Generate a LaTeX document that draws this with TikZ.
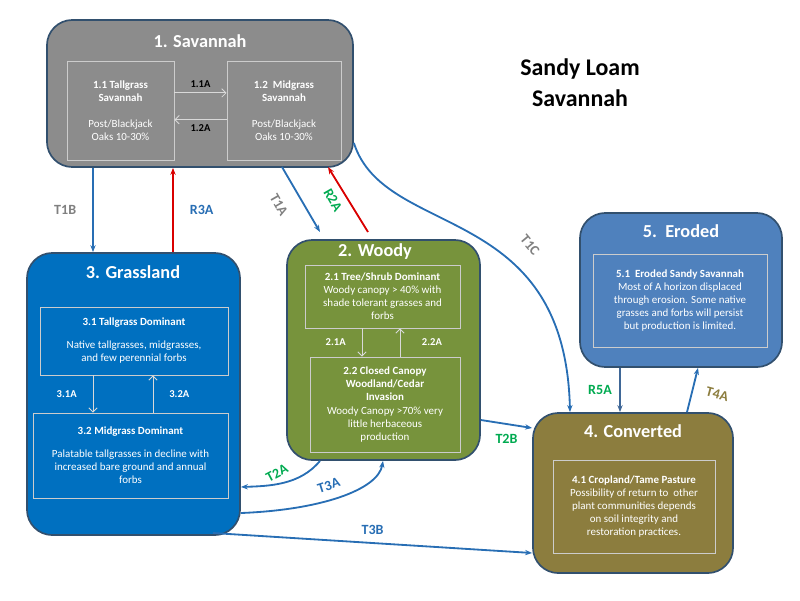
\documentclass[tikz,border=0pt]{standalone}
\usepackage{fontspec}
\setmainfont{Carlito}
\usetikzlibrary{arrows.meta}
\definecolor{savgray}{RGB}{140,140,140}
\definecolor{grassblue}{RGB}{0,112,192}
\definecolor{woodygreen}{RGB}{119,147,60}
\definecolor{erodedblue}{RGB}{79,129,189}
\definecolor{convolive}{RGB}{140,125,62}
\definecolor{edgeblue}{RGB}{50,80,110}
\definecolor{linkblue}{RGB}{40,110,180}
\definecolor{labgreen}{RGB}{0,170,80}

\begin{document}
\begin{tikzpicture}[
	x=0.025cm, y=-0.025cm,
	state/.style={draw=edgeblue, line width=1.2pt, rounded corners=18pt},
	phase/.style={draw=white!80!black, line width=0.6pt, align=center, text=white, font=\fontsize{7.8}{9.3}\selectfont},
	statetitle/.style={text=white, font=\fontsize{13}{15}\selectfont\bfseries},
	link/.style={-{Stealth[length=5pt]}, line width=1.3pt, draw=linkblue},
	back/.style={-{Stealth[length=5pt]}, line width=1.3pt, draw=red!85!black},
	inner/.style={-{Straight Barb[length=3pt]}, white!85!black, line width=0.6pt},
	lab/.style={font=\fontsize{10}{12}\selectfont\bfseries},
	innerlab/.style={font=\fontsize{7.5}{9}\selectfont\bfseries}
	]
	\useasboundingbox (0,0) rectangle (800,600);
	
	% States
	\node[state, fill=savgray, minimum width=7.65cm, minimum height=3.675cm] (savannah) at (200,93.5) {};
	\node[state, fill=grassblue, minimum width=5.325cm, minimum height=7.05cm] (grassland) at (133.5,394) {};
	\node[state, fill=woodygreen, minimum width=4.825cm, minimum height=5.5cm] (woody) at (383.5,350) {};
	\node[state, fill=erodedblue, minimum width=5.05cm, minimum height=3.85cm] (eroded) at (681,290) {};
	\node[state, fill=convolive, minimum width=5cm, minimum height=4cm] (converted) at (633,493) {};
	
	% State titles
	\node[statetitle] (savtitle) at (200,41) {1. Savannah};
	\node[statetitle] (grasstitle) at (133,272) {3. Grassland};
	\node[statetitle] (woodytitle) at (375,252) {2. Woody};
	\node[statetitle] (erodedtitle) at (681,231) {5.\ \ Eroded};
	\node[statetitle] (convtitle) at (633,431) {4. Converted};
	\node[font=\fontsize{17}{22}\selectfont\bfseries, align=center] (maintitle) at (580,83) {Sandy Loam\\Savannah};
	
	% Phases
	\node[phase, minimum width=2.675cm, minimum height=2.475cm] (tallsav) at (120.5,110.5) {\textbf{1.1 Tallgrass}\\\textbf{Savannah}\\[9pt]Post/Blackjack\\Oaks 10-30\%};
	\node[phase, minimum width=2.85cm, minimum height=2.475cm] (midsav) at (284,110.5) {\textbf{1.2\ \ Midgrass}\\\textbf{Savannah}\\[9pt]Post/Blackjack\\Oaks 10-30\%};
	\node[phase, minimum width=4.7cm, minimum height=1.7cm] (tallgrass) at (134,341) {\textbf{3.1 Tallgrass Dominant}\\[7pt]Native tallgrasses, midgrasses,\\and few perennial forbs};
	\node[phase, minimum width=4.875cm, minimum height=2.125cm] (midgrass) at (130.5,455.5) {\textbf{3.2 Midgrass Dominant}\\[7pt]Palatable tallgrasses in decline with\\increased bare ground and annual\\forbs};
	\node[phase, minimum width=3.875cm, minimum height=1.575cm] (treeshrub) at (382.5,296.5) {\textbf{2.1 Tree/Shrub Dominant}\\Woody canopy > 40\% with\\shade tolerant grasses and\\forbs};
	\node[phase, minimum width=3.75cm, minimum height=2.375cm] (closedcanopy) at (385,404.5) {\textbf{2.2 Closed Canopy}\\\textbf{Woodland/Cedar}\\\textbf{Invasion}\\Woody Canopy >70\% very\\little herbaceous\\production};
	\node[phase, minimum width=4.35cm, minimum height=2.325cm] (erodedsav) at (680,300.5) {\textbf{5.1\ \ Eroded Sandy Savannah}\\Most of A horizon displaced\\through erosion. Some native\\grasses and forbs will persist\\but production is limited.};
	\node[phase, minimum width=4.05cm, minimum height=2.325cm] (cropland) at (634,506.5) {\textbf{4.1 Cropland/Tame Pasture}\\Possibility of return to\ \ other\\plant communities depends\\on soil integrity and\\restoration practices.};
	
	% Arrows inside states
	\draw[inner] ([yshift=0.44cm]tallsav.east) -- ([yshift=0.44cm]midsav.west) node[midway, above, innerlab, black] {1.1A};
	\draw[inner] ([yshift=-0.23cm]midsav.west) -- ([yshift=-0.23cm]tallsav.east) node[midway, below, innerlab, black] {1.2A};
	\draw[inner] (tallgrass.south -| 93,0) -- (midgrass.north -| 93,0) node[midway, left=8pt, innerlab, white] {3.1A};
	\draw[inner] (midgrass.north -| 153,0) -- (tallgrass.south -| 153,0) node[midway, right=8pt, innerlab, white] {3.2A};
	\draw[inner] (treeshrub.south -| 362,0) -- (closedcanopy.north -| 362,0) node[midway, left=8pt, innerlab, white] {2.1A};
	\draw[inner] (closedcanopy.north -| 400,0) -- (treeshrub.south -| 400,0) node[midway, right=12pt, innerlab, white] {2.2A};
	
	% Transitions
	\draw[link] (savannah.south -| 93,0) -- (grassland.north -| 93,0) node[midway, left=8pt, lab, gray] {T1B};
	\draw[back] (grassland.north -| 173,0) -- (savannah.south -| 173,0) node[midway, right=8pt, lab, linkblue] {R3A};
	\draw[link] (282,167) -- (320,232);
	\draw[back] (368,232) -- (328,167);
	\draw[link] (savannah.east |- 0,143) .. controls (385,240) and (565,200) .. (converted.north -| 570,0);
	\draw[link] (woody.south -| 320,0) .. controls (300,485) and (270,486) .. (grassland.east |- 0,487) node[pos=0.3, above left=2pt, lab, labgreen, rotate=28] {T2A};
	\draw[link] (grassland.east |- 0,513) .. controls (320,510) and (378,490) .. (woody.south -| 383,0) node[pos=0.45, above=3pt, lab, linkblue, rotate=18] {T3A};
	\draw[link] (213,533) -- (converted.west |- 0,553) node[midway, above=2pt, lab, linkblue] {T3B};
	\draw[link] (woody.east |- 0,420) -- (converted.west |- 0,428) node[midway, below=3pt, lab, labgreen] {T2B};
	\draw[link, line width=1pt, draw=erodedblue!80!black] (eroded.south -| 620,0) -- (converted.north -| 620,0) node[midway, left=2pt, lab, labgreen] {R5A};
	\draw[link] (converted.north -| 687,0) -- (eroded.south -| 698,0) node[midway, right=6pt, lab, convolive, rotate=-15] {T4A};
	
	% Sloped labels
	\node[lab, gray, rotate=-60] (t1alab) at (279,205) {T1A};
	\node[lab, labgreen, rotate=-60] (r2alab) at (333,200) {R2A};
	\node[lab, gray, rotate=-50] (t1clab) at (530,245) {T1C};
	
\end{tikzpicture}
\end{document}
